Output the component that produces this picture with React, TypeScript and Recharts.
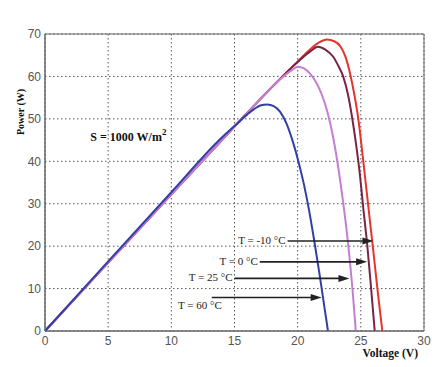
import {
  LineChart,
  Line,
  XAxis,
  YAxis,
  CartesianGrid,
  ReferenceLine,
  ReferenceArea,
  ReferenceDot,
} from "recharts";

// P-V curves of the panel at S = 1000 W/m2, one per cell temperature
const voltsM10 = [0, 5, 10, 15, 18, 20, 21, 21.7, 22.3, 22.9, 23.4, 23.8, 24.2, 24.5, 24.8, 25.1, 25.4, 25.7, 26.0, 26.35, 26.7];
const powerM10 = [0, 16.1, 32.2, 48.2, 57.6, 63.5, 66.4, 68.0, 68.7, 68.3, 67.0, 64.5, 60, 55.5, 50, 42.5, 34.5, 26.5, 18.5, 9, 0];

const volts0 = [0, 5, 10, 15, 18, 20, 21, 21.6, 22.2, 22.8, 23.2, 23.6, 24.0, 24.3, 24.6, 24.9, 25.2, 25.5, 25.8, 26.1];
const power0 = [0, 16.1, 32.2, 48.2, 57.6, 63.4, 65.9, 67.0, 66.3, 64.7, 62.6, 60.0, 55.5, 50.5, 44.5, 37.5, 28.8, 20.5, 10.5, 0];

const volts25 = [0, 5, 10, 15, 17, 18, 19, 19.6, 20.0, 20.5, 21.0, 21.5, 21.9, 22.3, 22.6, 22.9, 23.2, 23.5, 23.8, 24.1, 24.35, 24.6];
const power25 = [0, 16.1, 32.2, 48.2, 54.5, 57.6, 60.3, 61.6, 62.3, 61.9, 60.6, 58.4, 55.8, 52.2, 48.6, 44.2, 38.8, 32.5, 25.6, 17.5, 9.5, 0];

const volts60 = [0, 5, 10, 14, 15, 16, 16.6, 17.1, 17.6, 18.1, 18.6, 19.1, 19.6, 20.1, 20.5, 20.9, 21.3, 21.7, 22.1, 22.4];
const power60 = [0, 16.4, 32.7, 45.6, 48.3, 51.0, 52.4, 53.2, 53.4, 53.0, 51.7, 49.0, 44.8, 39.5, 34.5, 28.5, 21.5, 14.0, 6.0, 0];

const xTicks = [0, 5, 10, 15, 20, 25, 30];
const yTicks = [0, 10, 20, 30, 40, 50, 60, 70];

// arrows pointing at each curve
const tempLabels = ["T = -10 °C", "T = 0 °C", "T = 25 °C", "T = 60 °C"];
const arrowPower = [21.2, 16.3, 12.4, 7.9];
const arrowFrom = [19.2, 17.0, 15.0, 13.2];
const arrowTo = [26.0, 25.5, 24.1, 21.9];

const toPoints = (v: number[], p: number[]) => v.map((x, i) => ({ v: x, p: p[i] }));

const series = [
  { name: "-10", data: toPoints(voltsM10, powerM10), color: "#e4352c" },
  { name: "0", data: toPoints(volts0, power0), color: "#7a2446" },
  { name: "25", data: toPoints(volts25, power25), color: "#c47fd2" },
  { name: "60", data: toPoints(volts60, power60), color: "#3140a6" },
];

const serif = "'Liberation Serif', 'Times New Roman', serif";
const tickStyle = { fontSize: 12, fill: "#555", fontFamily: "'Liberation Sans', Arial, sans-serif" };

function Arrow(props: any) {
  const { x1, y1, x2, y2 } = props;
  const head = 11;
  return (
    <g>
      <line x1={x1} y1={y1} x2={x2 - head + 1} y2={y2} stroke="#222" strokeWidth={1.6} />
      <polygon points={`${x2},${y2} ${x2 - head},${y2 - 3.5} ${x2 - head},${y2 + 3.5}`} fill="#222" />
    </g>
  );
}

export default function App() {
  return (
    <div style={{ position: "absolute", left: 0, top: 0, background: "#fff" }}>
      <LineChart
        width={447}
        height={367}
        margin={{ top: 34, right: 23, bottom: 6, left: 0 }}
      >
        <CartesianGrid stroke="#555" strokeDasharray="1.5 2.5" />
        <XAxis
          dataKey="v"
          type="number"
          domain={[0, 30]}
          ticks={xTicks}
          height={30}
          stroke="#666"
          tickLine={false}
          tickSize={3}
          tickMargin={2}
          tick={tickStyle}
          label={{
            content: ({ viewBox }: any) => (
              <text
                x={viewBox.x + viewBox.width - 6}
                y={viewBox.y + 26}
                textAnchor="end"
                fontFamily={serif}
                fontWeight="bold"
                fontSize={11.5}
                fill="#111"
              >
                Voltage (V)
              </text>
            ),
          }}
        />
        <YAxis
          type="number"
          domain={[0, 70]}
          ticks={yTicks}
          width={45}
          stroke="#666"
          tickLine={false}
          tickSize={2}
          tickMargin={2}
          tick={tickStyle}
          label={{
            content: ({ viewBox }: any) => {
              const cx = viewBox.x + 20;
              const cy = viewBox.y + 78;
              return (
                <text
                  x={cx}
                  y={cy}
                  transform={`rotate(-90 ${cx} ${cy})`}
                  textAnchor="middle"
                  dominantBaseline="central"
                  fontFamily={serif}
                  fontWeight="bold"
                  fontSize={10}
                  fill="#111"
                >
                  Power (W)
                </text>
              );
            },
          }}
        />
        <ReferenceArea x1={0} x2={30} y1={0} y2={70} fill="none" stroke="#666" />
        {series.map((s) => (
          <Line
            key={s.name}
            data={s.data}
            dataKey="p"
            type="monotone"
            stroke={s.color}
            strokeWidth={2}
            dot={false}
            isAnimationActive={false}
          />
        ))}
        {tempLabels.map((t, i) => (
          <ReferenceLine
            key={t}
            segment={[
              { x: arrowFrom[i], y: arrowPower[i] },
              { x: arrowTo[i], y: arrowPower[i] },
            ]}
            shape={Arrow}
            label={{
              content: ({ viewBox }: any) => {
                const below = i === 3;
                return (
                  <text
                    x={viewBox.x + (below ? 10 : -2)}
                    y={viewBox.y + (below ? 8 : -1)}
                    textAnchor="end"
                    dominantBaseline="central"
                    fontFamily={serif}
                    fontSize={11}
                    fill="#222"
                  >
                    {t}
                  </text>
                );
              },
            }}
          />
        ))}
        <ReferenceDot
          x={6.6}
          y={45.7}
          r={0}
          fill="none"
          stroke="none"
          label={{
            content: ({ viewBox }: any) => (
              <text
                x={viewBox.x + viewBox.width / 2}
                y={viewBox.y + viewBox.height / 2}
                textAnchor="middle"
                dominantBaseline="central"
                fontFamily={serif}
                fontWeight="bold"
                fontSize={12}
                fill="#111"
              >
                S = 1000 W/m
                <tspan fontSize={9} dy={-5}>2</tspan>
              </text>
            ),
          }}
        />
      </LineChart>
    </div>
  );
}
